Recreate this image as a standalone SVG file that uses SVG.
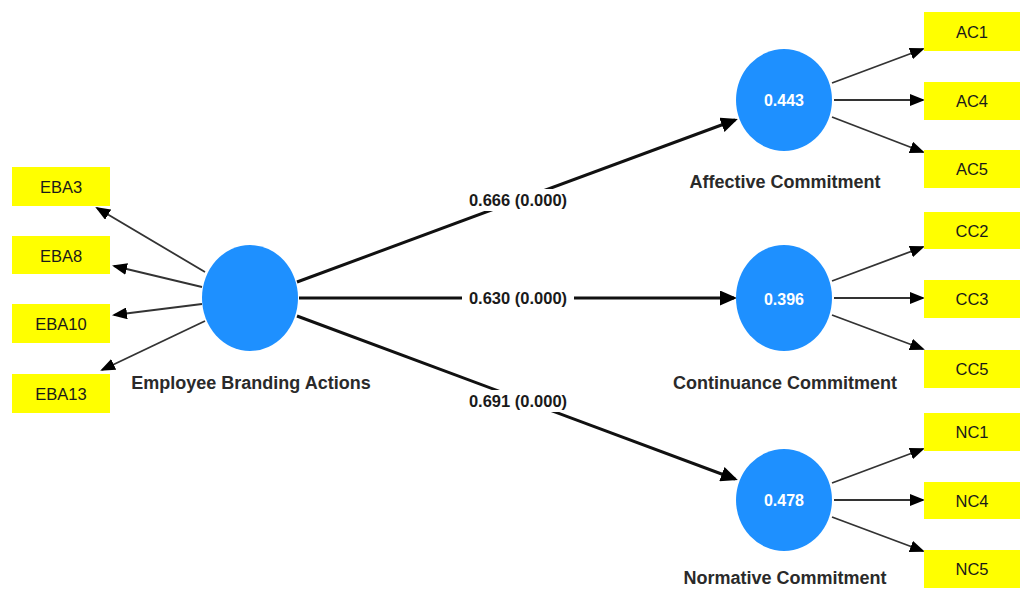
<svg xmlns="http://www.w3.org/2000/svg" width="1020" height="590" viewBox="0 0 1020 590">
<style>
.bg{fill:#ffffff}
.lv{fill:#1e90ff}
.ind{fill:#ffff00}
.gap{fill:#ffffff}
.itxt{font-family:"Liberation Sans",Arial,sans-serif;font-size:16.5px;fill:#1a1a1a;text-anchor:middle;dominant-baseline:central}
.vtxt{font-family:"Liberation Sans",Arial,sans-serif;font-size:16px;font-weight:bold;fill:#ffffff;text-anchor:middle;dominant-baseline:central}
.ltxt{font-family:"Liberation Sans",Arial,sans-serif;font-size:18px;font-weight:bold;fill:#2a2a2a;text-anchor:middle;dominant-baseline:central}
.ptxt{font-family:"Liberation Sans",Arial,sans-serif;font-size:16.5px;font-weight:bold;fill:#1a1a1a;text-anchor:middle;dominant-baseline:central}
.main{stroke:#111111;stroke-width:3;fill:none;marker-end:url(#ah)}
.thin{stroke:#333333;stroke-width:1.8;fill:none;marker-end:url(#ahs)}
</style>
<defs>
<marker id="ah" markerUnits="userSpaceOnUse" markerWidth="17" markerHeight="15" refX="14" refY="7.5" orient="auto">
<path d="M0,0 L17,7.5 L0,15 z" fill="#000000"/>
</marker>
<marker id="ahs" markerUnits="userSpaceOnUse" markerWidth="15" markerHeight="12" refX="13" refY="6" orient="auto">
<path d="M0,0 L15,6 L0,12 z" fill="#000000"/>
</marker>
</defs>
<rect class="bg" x="0" y="0" width="1020" height="590"/>
<g id="connectors">
<line class="thin" x1="205" y1="272" x2="97" y2="208"/>
<line class="thin" x1="202" y1="287" x2="114" y2="266"/>
<line class="thin" x1="202" y1="304" x2="114" y2="315"/>
<line class="thin" x1="205" y1="321" x2="102" y2="370"/>
<line class="main" x1="297" y1="282" x2="735" y2="120"/>
<line class="main" x1="299" y1="298" x2="734" y2="298"/>
<line class="main" x1="297" y1="316" x2="735" y2="479"/>
<line class="thin" x1="832" y1="83" x2="923" y2="49"/>
<line class="thin" x1="834" y1="100" x2="923" y2="100"/>
<line class="thin" x1="832" y1="117" x2="923" y2="152"/>
<line class="thin" x1="832" y1="281" x2="923" y2="247"/>
<line class="thin" x1="834" y1="298" x2="923" y2="298"/>
<line class="thin" x1="832" y1="315" x2="923" y2="349"/>
<line class="thin" x1="832" y1="483" x2="923" y2="449"/>
<line class="thin" x1="834" y1="500" x2="923" y2="500"/>
<line class="thin" x1="832" y1="517" x2="923" y2="551"/>
<rect class="gap" x="462" y="189" width="112" height="22"/>
<rect class="gap" x="462" y="287" width="112" height="22"/>
<rect class="gap" x="462" y="390" width="112" height="22"/>
<text class="ptxt" x="518" y="200">0.666 (0.000)</text>
<text class="ptxt" x="518" y="298">0.630 (0.000)</text>
<text class="ptxt" x="518" y="401">0.691 (0.000)</text>
</g>
<g id="eba">
<ellipse class="lv" cx="250" cy="298" rx="48" ry="53"/>
<text class="ltxt" x="251" y="383">Employee Branding Actions</text>
</g>
<g id="ac">
<ellipse class="lv" cx="784" cy="100" rx="48" ry="51"/>
<text class="vtxt" x="784" y="100">0.443</text>
<text class="ltxt" x="785" y="182">Affective Commitment</text>
</g>
<g id="cc">
<ellipse class="lv" cx="784" cy="298" rx="48" ry="53"/>
<text class="vtxt" x="784" y="299">0.396</text>
<text class="ltxt" x="785" y="383">Continuance Commitment</text>
</g>
<g id="nc">
<ellipse class="lv" cx="784" cy="500" rx="48" ry="51"/>
<text class="vtxt" x="784" y="500">0.478</text>
<text class="ltxt" x="785" y="578">Normative Commitment</text>
</g>
<g id="eba3"><rect class="ind" x="12" y="167" width="98" height="39"/><text class="itxt" x="61" y="187">EBA3</text></g>
<g id="eba8"><rect class="ind" x="12" y="236" width="98" height="38"/><text class="itxt" x="61" y="256">EBA8</text></g>
<g id="eba10"><rect class="ind" x="12" y="304" width="98" height="39"/><text class="itxt" x="61" y="324">EBA10</text></g>
<g id="eba13"><rect class="ind" x="12" y="374" width="98" height="39"/><text class="itxt" x="61" y="394">EBA13</text></g>
<g id="ac1"><rect class="ind" x="924" y="12" width="96" height="39"/><text class="itxt" x="972" y="32">AC1</text></g>
<g id="ac4"><rect class="ind" x="924" y="82" width="96" height="38"/><text class="itxt" x="972" y="101">AC4</text></g>
<g id="ac5"><rect class="ind" x="924" y="150" width="96" height="38"/><text class="itxt" x="972" y="169">AC5</text></g>
<g id="cc2"><rect class="ind" x="924" y="212" width="96" height="37"/><text class="itxt" x="972" y="231">CC2</text></g>
<g id="cc3"><rect class="ind" x="924" y="280" width="96" height="38"/><text class="itxt" x="972" y="299">CC3</text></g>
<g id="cc5"><rect class="ind" x="924" y="350" width="96" height="38"/><text class="itxt" x="972" y="369">CC5</text></g>
<g id="nc1"><rect class="ind" x="924" y="413" width="96" height="38"/><text class="itxt" x="972" y="432">NC1</text></g>
<g id="nc4"><rect class="ind" x="924" y="482" width="96" height="37"/><text class="itxt" x="972" y="501">NC4</text></g>
<g id="nc5"><rect class="ind" x="924" y="550" width="96" height="38"/><text class="itxt" x="972" y="569">NC5</text></g>
</svg>
